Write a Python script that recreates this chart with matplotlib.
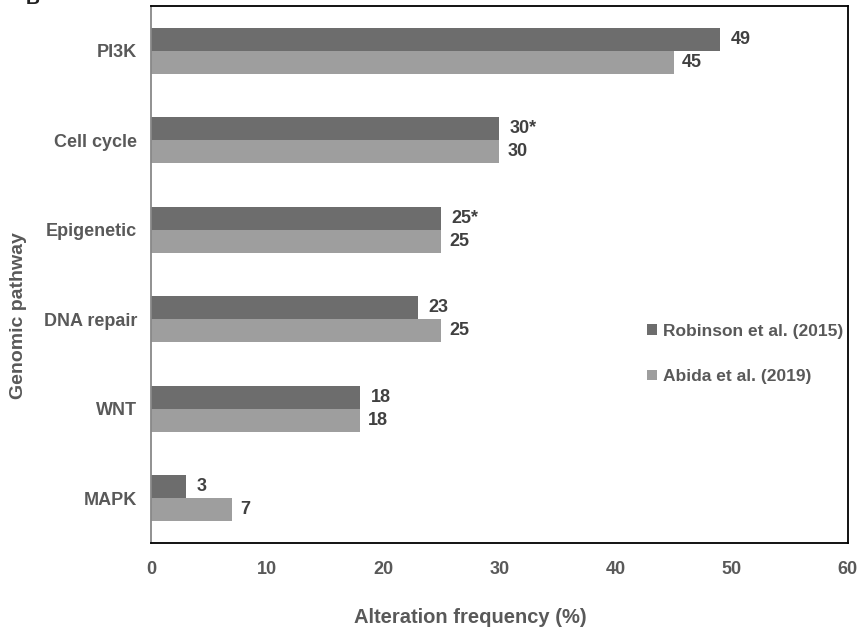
import numpy as np
import matplotlib.pyplot as plt

pathways = ['PI3K', 'Cell cycle', 'Epigenetic', 'DNA repair', 'WNT', 'MAPK']
robinson = [49, 30, 25, 23, 18, 3]
abida = [45, 30, 25, 25, 18, 7]
robinson_lbl = ['49', '30*', '25*', '23', '18', '3']
abida_lbl = ['45', '30', '25', '25', '18', '7']
xticks = [0, 10, 20, 30, 40, 50, 60]

dark = '#6d6d6d'
light = '#9e9e9e'
txt = '#404040'
grey = '#595959'

plt.rcParams['font.family'] = ['Liberation Sans', 'DejaVu Sans']
plt.rcParams['font.weight'] = 'bold'

fig = plt.figure(figsize=(8.58, 6.31), dpi=100)
ax = fig.add_axes([0.176, 0.1395, 0.812, 0.851])

y = np.arange(len(pathways))[::-1]
h = 0.255
ax.barh(y + h / 2, robinson, height=h, color=dark, label='Robinson et al. (2015)')
ax.barh(y - h / 2, abida, height=h, color=light, label='Abida et al. (2019)')

for yi, v, s in zip(y, robinson, robinson_lbl):
    ax.text(v + 0.9, yi + h / 2, s, va='center', ha='left', fontsize=13,
            fontweight='bold', color=txt)
for yi, v, s in zip(y, abida, abida_lbl):
    ax.text(v + 0.7, yi - h / 2, s, va='center', ha='left', fontsize=13,
            fontweight='bold', color=txt)

ax.set_xlim(0, 60)
ax.set_ylim(-0.5, 5.5)
ax.set_yticks(y)
ax.set_yticklabels(pathways, fontsize=13, fontweight='bold', color=grey)
ax.set_xticks(xticks)
ax.set_xticklabels([str(t) for t in xticks], fontsize=13, fontweight='bold',
                   color=grey)
ax.tick_params(axis='both', length=0)
ax.tick_params(axis='x', pad=13)
ax.tick_params(axis='y', pad=10)

for side in ['top', 'right', 'bottom']:
    ax.spines[side].set_color('black')
    ax.spines[side].set_linewidth(1.3)
ax.spines['left'].set_color('#888888')
ax.spines['left'].set_linewidth(1.3)

ax.set_xlabel('Alteration frequency (%)', fontsize=14.5, fontweight='bold',
              color=grey, va='center')
ax.xaxis.set_label_coords(0.458, -0.138)
ax.set_ylabel('Genomic pathway', fontsize=14, fontweight='bold', color=grey,
              va='center')
ax.yaxis.set_label_coords(-0.19, 0.423)

leg = ax.legend(loc='center left', bbox_to_anchor=(0.69, 0.352), frameon=False,
                fontsize=12.5, handlelength=0.55, handleheight=0.55,
                labelspacing=1.75, handletextpad=0.35)
for t in leg.get_texts():
    t.set_color(grey)
    t.set_fontweight('bold')

fig.text(0.03, 1.0, 'B', fontsize=14, fontweight='bold', color='#222222',
         va='center')

fig.savefig('out.png', dpi=100)
